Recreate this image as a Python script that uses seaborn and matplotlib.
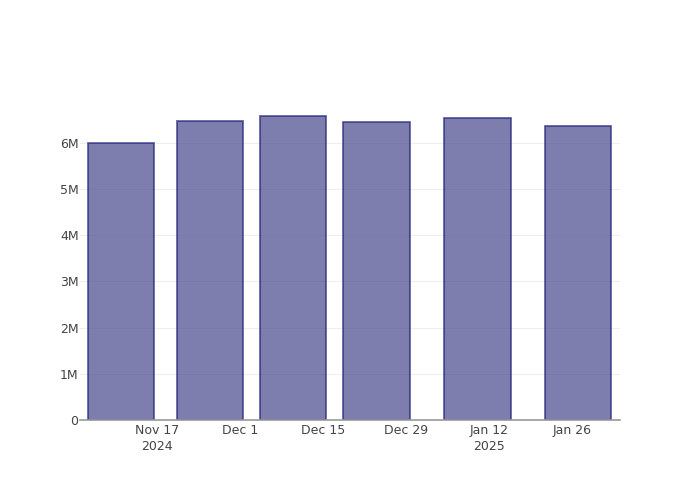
import matplotlib
matplotlib.use("Agg")
import matplotlib.pyplot as plt
import matplotlib.dates as mdates
import seaborn as sns
import pandas as pd

dates = ["2024-11-11", "2024-11-26", "2024-12-10", "2024-12-24", "2025-01-10", "2025-01-27"]
values = [6.00e6, 6.48e6, 6.59e6, 6.45e6, 6.55e6, 6.37e6]
tick_dates = ["2024-11-17", "2024-12-01", "2024-12-15", "2024-12-29", "2025-01-12", "2025-01-26"]
tick_labels = ["Nov 17\n2024", "Dec 1", "Dec 15", "Dec 29", "Jan 12\n2025", "Jan 26"]
ytick_vals = [0, 1e6, 2e6, 3e6, 4e6, 5e6, 6e6]
ytick_labels = ["0", "1M", "2M", "3M", "4M", "5M", "6M"]

sns.set_theme(style="white")
plt.rcParams['font.family'] = ['DejaVu Sans']

df = pd.DataFrame({"x": mdates.date2num(pd.to_datetime(dates)), "y": values})

fig = plt.figure(figsize=(7, 5), dpi=100)
ax = fig.add_axes([80/700, 80/500, 540/700, 320/500])

sns.barplot(data=df, x="x", y="y", native_scale=True, width=0.8,
            color=(72/255, 72/255, 140/255), saturation=1, alpha=0.7,
            edgecolor=(35/255, 35/255, 125/255), linewidth=1.3, ax=ax, zorder=2)

ax.set_xlim(mdates.date2num(pd.Timestamp("2024-11-17")) - 12.92,
            mdates.date2num(pd.Timestamp("2025-01-26")) + 8.04)
ax.set_ylim(0, 6.93e6)

ax.set_xticks(mdates.date2num(pd.to_datetime(tick_dates)))
ax.set_xticklabels(tick_labels, fontsize=9, color="#444444", linespacing=1.25)
ax.set_yticks(ytick_vals)
ax.set_yticklabels(ytick_labels, fontsize=9, color="#444444")

ax.set_xlabel("")
ax.set_ylabel("")
ax.grid(axis="y", color="#eeeeee", linewidth=0.8, zorder=0)
ax.set_axisbelow(True)
for s in ["top", "right", "left"]:
    ax.spines[s].set_visible(False)
ax.spines["bottom"].set_color("#999999")
ax.spines["bottom"].set_linewidth(1.2)
ax.tick_params(axis="x", length=0, pad=3)
ax.tick_params(axis="y", length=0, pad=1)

fig.savefig("out.png", dpi=100)
